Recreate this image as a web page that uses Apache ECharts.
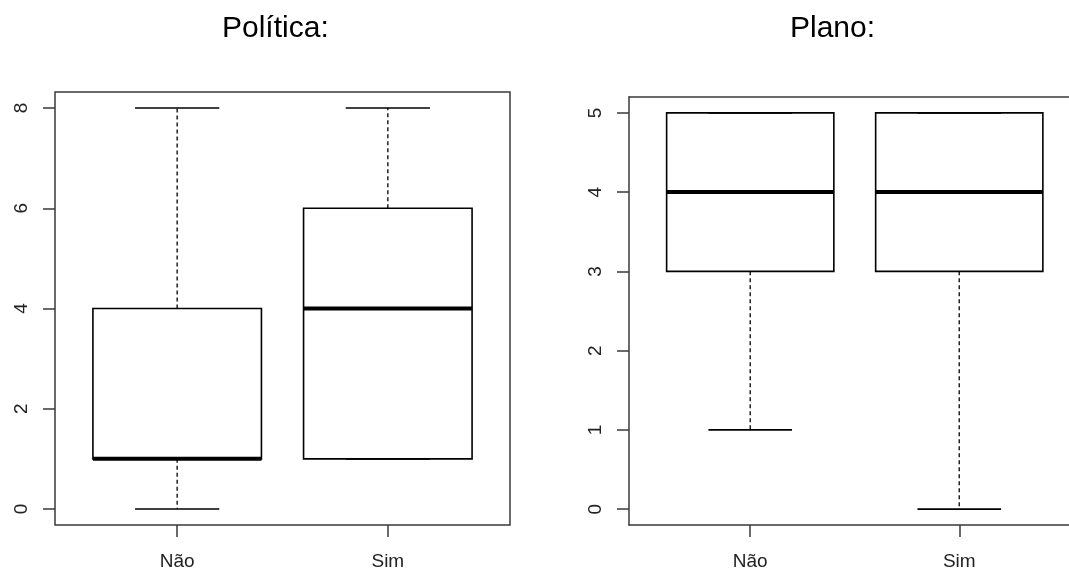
<!DOCTYPE html>
<html>
<head>
<meta charset="utf-8">
<script src="https://cdn.jsdelivr.net/npm/echarts@6/dist/echarts.min.js"></script>
<style>
  html, body { margin: 0; padding: 0; background: #ffffff; }
  #chart { width: 1069px; height: 571px; }
</style>
</head>
<body>
<div id="chart"></div>
<script>
// Group names along the x axis
const categories = ['Não', 'Sim'];

// Five-number summaries per group: [min, Q1, median, Q3, max]
const politicaStats = [
  [0, 1, 1, 4, 8],
  [1, 1, 4, 6, 8]
];
const planoStats = [
  [1, 3, 4, 5, 5],
  [0, 3, 4, 5, 5]
];

// Tick values on each y axis
const politicaTicks = [0, 2, 4, 6, 8];
const planoTicks = [0, 1, 2, 3, 4, 5];

const titles = ['Política:', 'Plano:'];

const FONT = 'Liberation Sans, Arial, sans-serif';
const INK = '#000000';
const AXIS = '#3a3a3a';

// R-style box: thick median, dashed whiskers, short staples
function renderBox(params, api) {
  const x = api.value(0);
  const mn = api.value(1), q1 = api.value(2), md = api.value(3), q3 = api.value(4), mx = api.value(5);
  const half = 0.4, capHalf = 0.2;
  const pL = api.coord([x - half, q3]);
  const pR = api.coord([x + half, q1]);
  const pMedL = api.coord([x - half, md]);
  const pMedR = api.coord([x + half, md]);
  const pMin = api.coord([x, mn]);
  const pQ1 = api.coord([x, q1]);
  const pQ3 = api.coord([x, q3]);
  const pMax = api.coord([x, mx]);
  const capMinL = api.coord([x - capHalf, mn]);
  const capMinR = api.coord([x + capHalf, mn]);
  const capMaxL = api.coord([x - capHalf, mx]);
  const capMaxR = api.coord([x + capHalf, mx]);
  const dash = { stroke: '#222', lineWidth: 1.5, lineDash: [4, 3] };
  const solid = { stroke: INK, lineWidth: 1.6 };
  return {
    type: 'group',
    children: [
      { type: 'line', shape: { x1: pQ3[0], y1: pQ3[1], x2: pMax[0], y2: pMax[1] }, style: dash },
      { type: 'line', shape: { x1: pQ1[0], y1: pQ1[1], x2: pMin[0], y2: pMin[1] }, style: dash },
      { type: 'line', shape: { x1: capMaxL[0], y1: capMaxL[1], x2: capMaxR[0], y2: capMaxR[1] }, style: solid },
      { type: 'line', shape: { x1: capMinL[0], y1: capMinL[1], x2: capMinR[0], y2: capMinR[1] }, style: solid },
      { type: 'rect', shape: { x: pL[0], y: pL[1], width: pR[0] - pL[0], height: pR[1] - pL[1] },
        style: { fill: 'none', stroke: INK, lineWidth: 1.6 } },
      { type: 'line', shape: { x1: pMedL[0], y1: pMedL[1], x2: pMedR[0], y2: pMedR[1] },
        style: { stroke: INK, lineWidth: 4 } }
    ]
  };
}

function toRows(stats) {
  return stats.map((s, i) => [i + 1].concat(s));
}

const axisLineStyle = { color: AXIS, width: 1.5 };

function xAxisFor(gridIndex, max, showLine) {
  return {
    type: 'value', gridIndex, min: 0.42, max,
    splitLine: { show: false },
    axisLine: { show: showLine, onZero: false, lineStyle: axisLineStyle },
    axisTick: { show: true, inside: false, length: 12, customValues: [1, 2], lineStyle: axisLineStyle },
    axisLabel: {
      customValues: [1, 2], margin: 27,
      formatter: v => categories[Math.round(v) - 1] || '',
      fontFamily: FONT, fontSize: 19, color: '#222'
    }
  };
}

// Top frame edge for the right-hand panel, which runs off the canvas on the right
function topEdgeFor(gridIndex, max) {
  return {
    type: 'value', gridIndex, min: 0.42, max, position: 'top',
    splitLine: { show: false },
    axisLine: { show: true, onZero: false, lineStyle: axisLineStyle },
    axisTick: { show: false },
    axisLabel: { show: false }
  };
}

function yAxisFor(gridIndex, min, max, ticks, showLine) {
  return {
    type: 'value', gridIndex, min, max,
    splitLine: { show: false },
    axisLine: { show: showLine, onZero: false, lineStyle: axisLineStyle },
    axisTick: { show: true, inside: false, length: 12, customValues: ticks, lineStyle: axisLineStyle },
    axisLabel: {
      customValues: ticks, rotate: 90, margin: 24,
      fontFamily: FONT, fontSize: 19, color: '#222'
    }
  };
}

const chart = echarts.init(document.getElementById('chart'), null, { renderer: 'canvas' });

chart.setOption({
  backgroundColor: '#ffffff',
  animation: false,
  title: [
    { text: titles[0], left: 217, top: 9, textStyle: { fontFamily: FONT, fontSize: 30, fontWeight: 'normal', color: INK } },
    { text: titles[1], left: 785, top: 9, textStyle: { fontFamily: FONT, fontSize: 30, fontWeight: 'normal', color: INK } }
  ],
  grid: [
    { left: 55, top: 92, width: 455, height: 434, show: true, borderColor: AXIS, borderWidth: 1.5, backgroundColor: 'transparent' },
    { left: 629, top: 97, right: 0, height: 430, show: false }
  ],
  xAxis: [
    xAxisFor(0, 2.58, false),
    xAxisFor(1, 2.525, true),
    topEdgeFor(1, 2.525)
  ],
  yAxis: [
    yAxisFor(0, -0.32, 8.32, politicaTicks, false),
    yAxisFor(1, -0.2, 5.2, planoTicks, true)
  ],
  series: [
    {
      type: 'custom', xAxisIndex: 0, yAxisIndex: 0, clip: false,
      renderItem: renderBox, data: toRows(politicaStats),
      encode: { x: 0, y: [1, 2, 3, 4, 5] }
    },
    {
      type: 'custom', xAxisIndex: 1, yAxisIndex: 1, clip: false,
      renderItem: renderBox, data: toRows(planoStats),
      encode: { x: 0, y: [1, 2, 3, 4, 5] }
    }
  ]
});
</script>
</body>
</html>
